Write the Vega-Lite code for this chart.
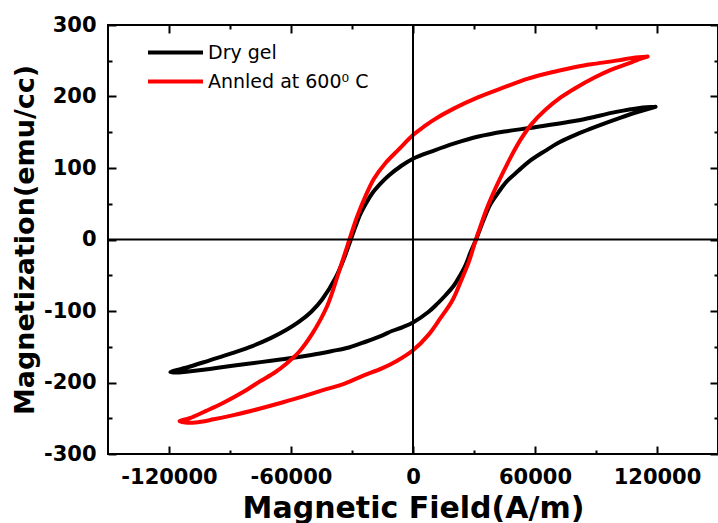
{
  "$schema": "https://vega.github.io/schema/vega-lite/v6.json",
  "width": 610,
  "height": 429,
  "autosize": {"type": "none"},
  "padding": {"left": 108, "top": 25, "right": 0, "bottom": 69},
  "background": "white",
  "config": {
    "view": {"stroke": "black", "strokeWidth": 2},
    "axis": {
      "grid": false, "domain": false, "tickColor": "black", "tickWidth": 2,
      "labelFont": "DejaVu Sans", "labelFontWeight": "bold", "labelFontSize": 21, "labelColor": "black",
      "titleFont": "DejaVu Sans", "titleFontWeight": "bold", "titleColor": "black", "labelFlush": false
    }
  },
  "resolve": {"axis": {"x": "independent", "y": "independent"}},
  "layer": [
    {
      "data": {"values": [
        {"s":"Dry gel","i":0,"H":119300,"M":185.6},{"s":"Dry gel","i":1,"H":111500,"M":184},{"s":"Dry gel","i":2,"H":100000,"M":178.5},{"s":"Dry gel","i":3,"H":90000,"M":172},{"s":"Dry gel","i":4,"H":80000,"M":166},{"s":"Dry gel","i":5,"H":60000,"M":157},{"s":"Dry gel","i":6,"H":45000,"M":151},{"s":"Dry gel","i":7,"H":32200,"M":144},{"s":"Dry gel","i":8,"H":20000,"M":134},{"s":"Dry gel","i":9,"H":10000,"M":124},{"s":"Dry gel","i":10,"H":0,"M":113},{"s":"Dry gel","i":11,"H":-5500,"M":103.5},{"s":"Dry gel","i":12,"H":-11900,"M":89.5},{"s":"Dry gel","i":13,"H":-16000,"M":78},{"s":"Dry gel","i":14,"H":-20200,"M":64},{"s":"Dry gel","i":15,"H":-23000,"M":51},{"s":"Dry gel","i":16,"H":-25800,"M":36},{"s":"Dry gel","i":17,"H":-28300,"M":18},{"s":"Dry gel","i":18,"H":-30700,"M":-1},{"s":"Dry gel","i":19,"H":-34000,"M":-27},{"s":"Dry gel","i":20,"H":-38000,"M":-53},{"s":"Dry gel","i":21,"H":-44700,"M":-84},{"s":"Dry gel","i":22,"H":-50000,"M":-101},{"s":"Dry gel","i":23,"H":-56000,"M":-115},{"s":"Dry gel","i":24,"H":-62000,"M":-126},{"s":"Dry gel","i":25,"H":-70000,"M":-138},{"s":"Dry gel","i":26,"H":-80400,"M":-150.6},{"s":"Dry gel","i":27,"H":-90000,"M":-160},{"s":"Dry gel","i":28,"H":-100000,"M":-169},{"s":"Dry gel","i":29,"H":-110000,"M":-178},{"s":"Dry gel","i":30,"H":-119300,"M":-185.6},
        {"s":"Dry gel","i":31,"H":-115000,"M":-186},{"s":"Dry gel","i":32,"H":-111500,"M":-185},{"s":"Dry gel","i":33,"H":-100000,"M":-181},{"s":"Dry gel","i":34,"H":-88800,"M":-176.5},{"s":"Dry gel","i":35,"H":-75000,"M":-171.5},{"s":"Dry gel","i":36,"H":-64300,"M":-167.5},{"s":"Dry gel","i":37,"H":-50000,"M":-161.5},{"s":"Dry gel","i":38,"H":-39800,"M":-156},{"s":"Dry gel","i":39,"H":-31500,"M":-151},{"s":"Dry gel","i":40,"H":-23300,"M":-143},{"s":"Dry gel","i":41,"H":-15000,"M":-134},{"s":"Dry gel","i":42,"H":-10400,"M":-128},{"s":"Dry gel","i":43,"H":-5000,"M":-122.5},{"s":"Dry gel","i":44,"H":0,"M":-116},{"s":"Dry gel","i":45,"H":7700,"M":-101},{"s":"Dry gel","i":46,"H":11900,"M":-90},{"s":"Dry gel","i":47,"H":16000,"M":-78},{"s":"Dry gel","i":48,"H":20200,"M":-64},{"s":"Dry gel","i":49,"H":23000,"M":-51},{"s":"Dry gel","i":50,"H":25800,"M":-36},{"s":"Dry gel","i":51,"H":28300,"M":-18},{"s":"Dry gel","i":52,"H":31000,"M":0},{"s":"Dry gel","i":53,"H":34500,"M":26},{"s":"Dry gel","i":54,"H":38000,"M":49},{"s":"Dry gel","i":55,"H":42000,"M":66},{"s":"Dry gel","i":56,"H":46000,"M":81},{"s":"Dry gel","i":57,"H":51800,"M":96},{"s":"Dry gel","i":58,"H":57000,"M":109},{"s":"Dry gel","i":59,"H":65000,"M":124},{"s":"Dry gel","i":60,"H":72000,"M":136},{"s":"Dry gel","i":61,"H":81200,"M":148},{"s":"Dry gel","i":62,"H":90000,"M":158},{"s":"Dry gel","i":63,"H":102200,"M":170.6},{"s":"Dry gel","i":64,"H":110000,"M":178},{"s":"Dry gel","i":65,"H":119300,"M":185.6},
        {"s":"Annled at 600⁰ C","i":0,"H":115400,"M":256},{"s":"Annled at 600⁰ C","i":1,"H":108000,"M":254},{"s":"Annled at 600⁰ C","i":2,"H":100800,"M":250.5},{"s":"Annled at 600⁰ C","i":3,"H":90000,"M":246},{"s":"Annled at 600⁰ C","i":4,"H":81200,"M":242},{"s":"Annled at 600⁰ C","i":5,"H":70000,"M":235},{"s":"Annled at 600⁰ C","i":6,"H":56600,"M":225},{"s":"Annled at 600⁰ C","i":7,"H":45000,"M":213},{"s":"Annled at 600⁰ C","i":8,"H":32200,"M":199},{"s":"Annled at 600⁰ C","i":9,"H":20000,"M":183},{"s":"Annled at 600⁰ C","i":10,"H":10000,"M":167},{"s":"Annled at 600⁰ C","i":11,"H":5000,"M":157},{"s":"Annled at 600⁰ C","i":12,"H":0,"M":146},{"s":"Annled at 600⁰ C","i":13,"H":-7000,"M":126},{"s":"Annled at 600⁰ C","i":14,"H":-13500,"M":107},{"s":"Annled at 600⁰ C","i":15,"H":-19200,"M":85},{"s":"Annled at 600⁰ C","i":16,"H":-23300,"M":61},{"s":"Annled at 600⁰ C","i":17,"H":-27500,"M":32},{"s":"Annled at 600⁰ C","i":18,"H":-30000,"M":11},{"s":"Annled at 600⁰ C","i":19,"H":-32500,"M":-11},{"s":"Annled at 600⁰ C","i":20,"H":-36400,"M":-45},{"s":"Annled at 600⁰ C","i":21,"H":-42200,"M":-93},{"s":"Annled at 600⁰ C","i":22,"H":-49600,"M":-132},{"s":"Annled at 600⁰ C","i":23,"H":-56000,"M":-157},{"s":"Annled at 600⁰ C","i":24,"H":-62000,"M":-173},{"s":"Annled at 600⁰ C","i":25,"H":-68000,"M":-186},{"s":"Annled at 600⁰ C","i":26,"H":-75000,"M":-198},{"s":"Annled at 600⁰ C","i":27,"H":-84000,"M":-214},{"s":"Annled at 600⁰ C","i":28,"H":-93700,"M":-229},{"s":"Annled at 600⁰ C","i":29,"H":-102000,"M":-240},{"s":"Annled at 600⁰ C","i":30,"H":-109900,"M":-250},{"s":"Annled at 600⁰ C","i":31,"H":-114800,"M":-254},
        {"s":"Annled at 600⁰ C","i":32,"H":-112000,"M":-256},{"s":"Annled at 600⁰ C","i":33,"H":-107000,"M":-256},{"s":"Annled at 600⁰ C","i":34,"H":-98000,"M":-251.5},{"s":"Annled at 600⁰ C","i":35,"H":-88800,"M":-246},{"s":"Annled at 600⁰ C","i":36,"H":-76000,"M":-237},{"s":"Annled at 600⁰ C","i":37,"H":-64300,"M":-228},{"s":"Annled at 600⁰ C","i":38,"H":-54000,"M":-219.5},{"s":"Annled at 600⁰ C","i":39,"H":-44700,"M":-211},{"s":"Annled at 600⁰ C","i":40,"H":-35000,"M":-203},{"s":"Annled at 600⁰ C","i":41,"H":-25000,"M":-191},{"s":"Annled at 600⁰ C","i":42,"H":-15000,"M":-180},{"s":"Annled at 600⁰ C","i":43,"H":-8000,"M":-170},{"s":"Annled at 600⁰ C","i":44,"H":0,"M":-155},{"s":"Annled at 600⁰ C","i":45,"H":7700,"M":-133},{"s":"Annled at 600⁰ C","i":46,"H":13500,"M":-110},{"s":"Annled at 600⁰ C","i":47,"H":19200,"M":-86},{"s":"Annled at 600⁰ C","i":48,"H":23300,"M":-60},{"s":"Annled at 600⁰ C","i":49,"H":27500,"M":-31},{"s":"Annled at 600⁰ C","i":50,"H":30600,"M":-3},{"s":"Annled at 600⁰ C","i":51,"H":33000,"M":17},{"s":"Annled at 600⁰ C","i":52,"H":36400,"M":44},{"s":"Annled at 600⁰ C","i":53,"H":40000,"M":68},{"s":"Annled at 600⁰ C","i":54,"H":44000,"M":92},{"s":"Annled at 600⁰ C","i":55,"H":48400,"M":117},{"s":"Annled at 600⁰ C","i":56,"H":53000,"M":140},{"s":"Annled at 600⁰ C","i":57,"H":58200,"M":161},{"s":"Annled at 600⁰ C","i":58,"H":65000,"M":181},{"s":"Annled at 600⁰ C","i":59,"H":72800,"M":199},{"s":"Annled at 600⁰ C","i":60,"H":80000,"M":212},{"s":"Annled at 600⁰ C","i":61,"H":89500,"M":227},{"s":"Annled at 600⁰ C","i":62,"H":97000,"M":237},{"s":"Annled at 600⁰ C","i":63,"H":105700,"M":246},{"s":"Annled at 600⁰ C","i":64,"H":111000,"M":252},{"s":"Annled at 600⁰ C","i":65,"H":115400,"M":256}
      ]},
      "mark": {"type": "line", "strokeWidth": 4, "strokeJoin": "round", "strokeCap": "round", "interpolate": "catmull-rom"},
      "encoding": {
        "x": {"field": "H", "type": "quantitative", "scale": {"domain": [-150000, 150000], "nice": false, "zero": false},
              "axis": {"orient": "bottom", "offset": 0, "values": [-120000, -60000, 0, 60000, 120000], "tickSize": -8, "labelPadding": 20, "labelExpr": "'' + datum.value", "title": "Magnetic Field(A/m)", "titleFontSize": 30, "titlePadding": 6}},
        "y": {"field": "M", "type": "quantitative", "scale": {"domain": [-300, 300], "nice": false, "zero": false},
              "axis": {"orient": "left", "offset": 0, "values": [-300, -200, -100, 0, 100, 200, 300], "tickSize": -8, "labelPadding": 20, "labelExpr": "'' + datum.value", "title": "Magnetization(emu/cc)", "titleFontSize": 27, "titlePadding": 4}},
        "order": {"field": "i", "type": "quantitative"},
        "color": {"field": "s", "type": "nominal",
                  "scale": {"domain": ["Dry gel", "Annled at 600⁰ C"], "range": ["#000000", "#ff0000"]},
                  "legend": {"title": null, "orient": "none", "legendX": 58, "legendY": 18, "padding": 0,
                             "symbolType": "M-5,0H5", "symbolSize": 121, "symbolStrokeWidth": 4,
                             "labelFont": "DejaVu Sans", "labelFontSize": 19, "labelColor": "black", "labelOffset": 23,
                             "labelLimit": 400, "rowPadding": 9}}
      }
    },
    {
      "data": {"values": [{}]},
      "mark": {"type": "rule", "color": "black", "strokeWidth": 2},
      "encoding": {
        "x": {"datum": 0, "type": "quantitative", "axis": {"orient": "top", "offset": 0, "values": [-120000, -60000, 0, 60000, 120000], "tickSize": -8, "labels": false, "title": null}}
      }
    },
    {
      "data": {"values": [{}]},
      "mark": {"type": "rule", "color": "black", "strokeWidth": 2},
      "encoding": {
        "y": {"datum": 0, "type": "quantitative", "axis": {"orient": "right", "offset": 0, "values": [-300, -200, -100, 0, 100, 200, 300], "tickSize": -8, "labels": false, "title": null}}
      }
    },
    {
      "data": {"values": [{}]},
      "mark": {"type": "point", "opacity": 0},
      "encoding": {
        "x": {"datum": 0, "type": "quantitative", "axis": {"orient": "bottom", "offset": 0, "values": [-90000, -30000, 30000, 90000], "tickSize": -4, "labels": false, "title": null}},
        "y": {"datum": 0, "type": "quantitative", "axis": {"orient": "left", "offset": 0, "values": [-250, -150, -50, 50, 150, 250], "tickSize": -4, "labels": false, "title": null}}
      }
    },
    {
      "data": {"values": [{}]},
      "mark": {"type": "point", "opacity": 0},
      "encoding": {
        "x": {"datum": 0, "type": "quantitative", "axis": {"orient": "top", "offset": 0, "values": [-90000, -30000, 30000, 90000], "tickSize": -4, "labels": false, "title": null}},
        "y": {"datum": 0, "type": "quantitative", "axis": {"orient": "right", "offset": 0, "values": [-250, -150, -50, 50, 150, 250], "tickSize": -4, "labels": false, "title": null}}
      }
    }
  ]
}
